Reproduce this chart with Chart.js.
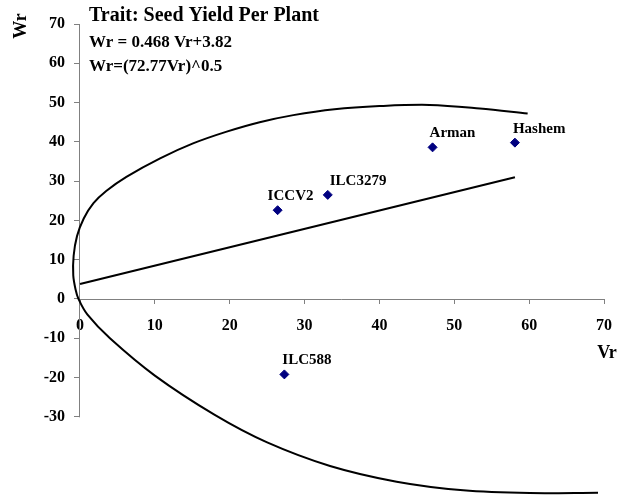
<!DOCTYPE html>
<html><head><meta charset="utf-8">
<script src="https://cdn.jsdelivr.net/npm/chart.js@4/dist/chart.umd.min.js"></script>
<style>html,body{margin:0;padding:0;background:#fff;overflow:hidden}#wrap{width:626px;height:495px;position:relative}canvas{display:block}</style>
</head><body><div id="wrap"><canvas id="c" width="626" height="495"></canvas></div>
<script>
// ---- data ----
const genotypes = ['ICCV2', 'ILC3279', 'Arman', 'Hashem', 'ILC588'];
const vrValues = [26.4, 33.1, 47.1, 58.1, 27.3];
const wrValues = [22.6, 26.5, 38.6, 39.8, -19.2];

const regressionVr = [0, 58.1];
const regressionWr = [3.82, 31.0];

const limitVr = [59.8, 53.4, 46.7, 40.0, 34.0, 28.5, 24.0, 19.6, 15.1, 10.7, 6.2, 3.5, 1.8, 0.5, -0.4, -0.85, -0.9, -0.6, -0.2,
                 1.0, 4.0, 10.0, 18.0, 25.0, 33.4, 42.3, 51.2, 60.1, 69.2];
const limitWr = [47.2, 48.5, 49.4, 49.1, 48.3, 46.8, 45.0, 42.6, 39.6, 35.8, 31.1, 27.5, 24.4, 20.5, 16.0, 11.0, 6.0, 2.5, 0,
                 -4, -10, -19.5, -29.5, -36.5, -42.5, -46.5, -48.7, -49.4, -49.3];

const xTicks = [0, 10, 20, 30, 40, 50, 60, 70];
const yTicks = [-30, -20, -10, 0, 10, 20, 30, 40, 50, 60, 70];

const titleText = 'Trait: Seed Yield Per Plant';
const equationTexts = ['Wr = 0.468 Vr+3.82', 'Wr=(72.77Vr)^0.5'];
const xTitle = 'Vr';
const yTitle = 'Wr';

// ---- styles ----
const SERIF = "'Liberation Serif', 'Times New Roman', serif";
const AXIS_COLOR = '#808080';
const labelDx = [-10, 2, -3, -2, -2];

const toXY = (xs, ys) => xs.map((v, i) => ({x: v, y: ys[i]}));

const decorPlugin = {
  id: 'decor',
  beforeDatasetsDraw(chart) {
    const ctx = chart.ctx, xs = chart.scales.x, ys = chart.scales.y;
    const x0 = Math.round(xs.getPixelForValue(0)) - 0.5;
    const y0 = Math.round(ys.getPixelForValue(0)) + 0.5;
    ctx.save();
    ctx.strokeStyle = AXIS_COLOR;
    ctx.lineWidth = 1;
    ctx.beginPath();
    ctx.moveTo(x0, ys.getPixelForValue(yTicks[yTicks.length - 1]));
    ctx.lineTo(x0, ys.getPixelForValue(yTicks[0]) + 0.5);
    ctx.moveTo(x0, y0);
    ctx.lineTo(xs.getPixelForValue(xTicks[xTicks.length - 1]), y0);
    ctx.stroke();
    ctx.restore();
  },
  afterDatasetsDraw(chart) {
    const ctx = chart.ctx;
    ctx.save();
    ctx.fillStyle = '#000';
    ctx.textAlign = 'left';
    ctx.textBaseline = 'alphabetic';
    ctx.font = 'bold 20px ' + SERIF;
    ctx.fillText(titleText, 89, 21);
    ctx.font = 'bold 17px ' + SERIF;
    ctx.fillText(equationTexts[0], 89, 47);
    ctx.fillText(equationTexts[1], 89, 71);
    ctx.font = 'bold 18px ' + SERIF;
    ctx.textAlign = 'center';
    ctx.textBaseline = 'middle';
    ctx.fillText(xTitle, 607, 353);
    ctx.save();
    ctx.translate(21, 26);
    ctx.rotate(-Math.PI / 2);
    ctx.fillText(yTitle, 0, 0);
    ctx.restore();
    const meta = chart.getDatasetMeta(2);
    ctx.font = 'bold 15px ' + SERIF;
    ctx.textAlign = 'left';
    ctx.textBaseline = 'middle';
    meta.data.forEach((pt, i) => {
      ctx.fillText(genotypes[i], pt.x + labelDx[i], pt.y - 14);
    });
    ctx.restore();
  }
};

new Chart(document.getElementById('c'), {
  type: 'scatter',
  data: {
    datasets: [
      {
        label: 'limit',
        data: toXY(limitVr, limitWr),
        showLine: true,
        borderColor: '#000',
        borderWidth: 2,
        pointRadius: 0,
        tension: 0.35,
        clip: false
      },
      {
        label: 'regression',
        data: toXY(regressionVr, regressionWr),
        showLine: true,
        borderColor: '#000',
        borderWidth: 2.2,
        pointRadius: 0,
        clip: false
      },
      {
        label: 'genotypes',
        data: toXY(vrValues, wrValues),
        pointStyle: 'rectRot',
        pointRadius: 4.5,
        backgroundColor: '#000080',
        borderColor: '#000080',
        borderWidth: 1,
        clip: false
      }
    ]
  },
  options: {
    responsive: false,
    animation: false,
    devicePixelRatio: 1,
    layout: {autoPadding: false, padding: {left: 0, top: 24, right: 22, bottom: 0}},
    plugins: {legend: {display: false}, tooltip: {enabled: false}},
    scales: {
      x: {
        type: 'linear',
        min: 0,
        max: 70,
        position: {y: 0},
        afterBuildTicks: s => { s.ticks = xTicks.map(v => ({value: v})); },
        afterFit: s => { s.height = 0; s.paddingLeft = 0; s.paddingRight = 0; s.paddingTop = 0; s.paddingBottom = 0; },
        border: {display: false},
        grid: {drawOnChartArea: false, drawTicks: true, tickLength: 5, color: AXIS_COLOR},
        ticks: {color: '#000', font: {family: SERIF, size: 16, weight: 'bold'}, padding: 12, maxRotation: 0, autoSkip: false}
      },
      y: {
        type: 'linear',
        min: -49.9,
        max: 70,
        position: 'left',
        afterBuildTicks: s => { s.ticks = yTicks.map(v => ({value: v})); },
        afterFit: s => { s.width = 80; s.paddingLeft = 0; s.paddingRight = 0; s.paddingTop = 0; s.paddingBottom = 0; },
        border: {display: false},
        grid: {drawOnChartArea: false, drawTicks: true, tickLength: 6, color: AXIS_COLOR},
        ticks: {color: '#000', font: {family: SERIF, size: 16, weight: 'bold'}, padding: 9, autoSkip: false}
      }
    }
  },
  plugins: [decorPlugin]
});
</script>
</body></html>
